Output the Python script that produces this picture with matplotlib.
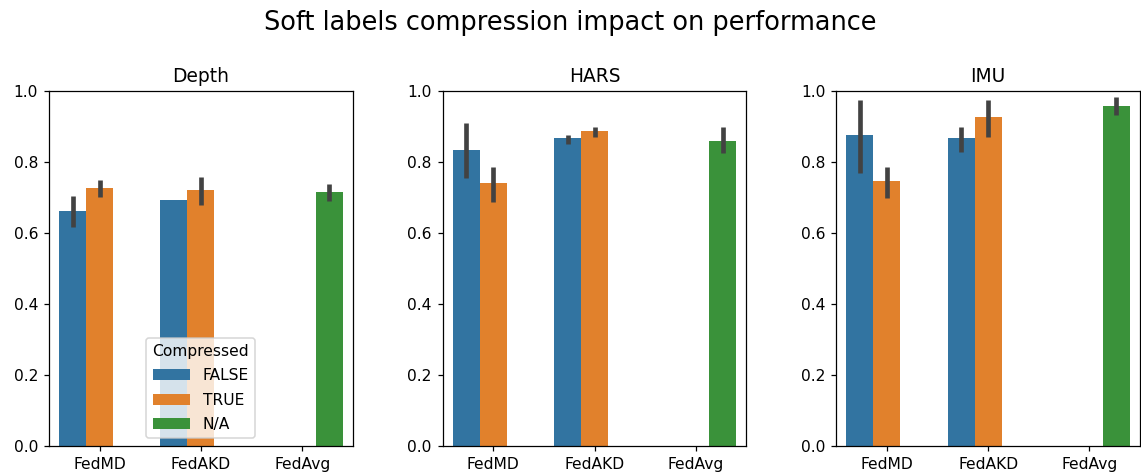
import numpy as np
import matplotlib
matplotlib.use("Agg")
from matplotlib import pyplot as plt
from matplotlib.patches import Patch

nan = np.nan

methods = ["FedMD", "FedAKD", "FedAvg"]
datasets = ["Depth", "HARS", "IMU"]
hues = ["FALSE", "TRUE", "N/A"]

# rows follow hues (FALSE, TRUE, N/A), columns follow methods
depth_mean = [[0.663, 0.694, nan], [0.727, 0.722, nan], [nan, nan, 0.716]]
depth_lo = [[0.616, nan, nan], [0.702, 0.679, nan], [nan, nan, 0.691]]
depth_hi = [[0.704, nan, nan], [0.749, 0.758, nan], [nan, nan, 0.738]]

hars_mean = [[0.834, 0.867, nan], [0.741, 0.888, nan], [nan, nan, 0.860]]
hars_lo = [[0.754, 0.851, nan], [0.689, 0.872, nan], [nan, nan, 0.825]]
hars_hi = [[0.909, 0.877, nan], [0.785, 0.899, nan], [nan, nan, 0.898]]

imu_mean = [[0.877, 0.867, nan], [0.747, 0.926, nan], [nan, nan, 0.958]]
imu_lo = [[0.770, 0.829, nan], [0.700, 0.872, nan], [nan, nan, 0.932]]
imu_hi = [[0.974, 0.899, nan], [0.785, 0.974, nan], [nan, nan, 0.985]]

colors = ["#3274a1", "#e1812c", "#3a923a"]
err_color = "#424242"

fig, axes = plt.subplots(1, 3, figsize=(1141 / 112, 475 / 112), dpi=112)
fig.subplots_adjust(left=0.043, right=0.9991, bottom=0.061, top=0.808, wspace=0.296)
fig.suptitle("Soft labels compression impact on performance", fontsize=16.5, y=0.98)

width = 0.8 / len(hues)
x = np.arange(len(methods))
panels = [
    (depth_mean, depth_lo, depth_hi),
    (hars_mean, hars_lo, hars_hi),
    (imu_mean, imu_lo, imu_hi),
]

for ax, name, (mean, lo, hi) in zip(axes, datasets, panels):
    for i, hue in enumerate(hues):
        pos = x + (i - 1) * width
        vals = np.array(mean[i])
        ok = ~np.isnan(vals)
        ax.bar(pos[ok], vals[ok], width=width, color=colors[i], linewidth=0)
        lows = np.array(lo[i])
        highs = np.array(hi[i])
        has_ci = ~np.isnan(lows)
        ax.vlines(pos[has_ci], lows[has_ci], highs[has_ci], color=err_color,
                  linewidth=3)
    ax.set_xticks(x)
    ax.set_xticklabels(methods)
    ax.set_xlim(-0.5, len(methods) - 0.5)
    ax.set_ylim(0, 1.0)
    ax.set_title(name)

handles = [Patch(facecolor=c, label=h) for c, h in zip(colors, hues)]
axes[0].legend(handles=handles, title="Compressed", loc="lower center",
               handlelength=2.4, labelspacing=0.6)

fig.savefig("out.png", dpi=112)
